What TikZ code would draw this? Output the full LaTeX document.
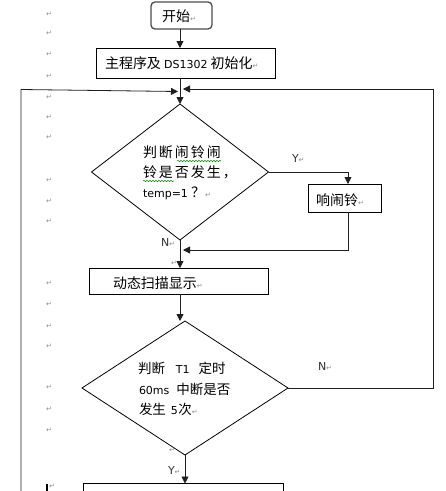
\documentclass[tikz,border=0pt]{standalone}
\usepackage{fontspec}
\setmainfont{Noto Sans CJK SC}
\newfontfamily\latf{DejaVu Sans}
\newfontfamily\symf{DejaVu Sans}
\usetikzlibrary{arrows.meta,shapes.geometric,decorations.pathmorphing}
\newcommand\parmark{{\symf\fontsize{7}{7}\selectfont\color{black!45}↵}}
\newcommand\lt[1]{{\latf\fontsize{11}{13}\selectfont #1}}
\tikzset{
  every node/.style={outer sep=0pt},
  line/.style={draw=black!88, line width=0.8pt},
  arr/.style={line, -{Triangle[length=7pt,width=7pt]}},
  startbox/.style={draw=black!70, line width=1.3pt, rounded corners=4pt, inner sep=0pt,
    minimum width=61pt, minimum height=27pt},
  procbox/.style={draw=black, line width=1pt, inner sep=0pt},
  decision/.style={diamond, draw=black, line width=0.8pt, inner sep=0pt},
  txt/.style={inner sep=0pt, anchor=west, font=\fontsize{14}{16}\selectfont},
  txtb/.style={inner sep=0pt, anchor=west, font=\fontsize{13.5}{16}\selectfont},
  lbl/.style={inner sep=0pt, anchor=west, text=black!80, font=\latf\fontsize{11}{13}\selectfont},
  pmark/.style={inner sep=0pt, anchor=west},
  wavy/.style={draw=green!55!black, line width=0.5pt, decorate,
    decoration={snake, amplitude=0.7pt, segment length=3pt}}
}
\begin{document}
\begin{tikzpicture}[x=1pt,y=-1pt]
\useasboundingbox (0,0) rectangle (446,491);
\clip (0,0) rectangle (446,491);
\fill[white] (0,0) rectangle (446,491);

% column and helper coordinates
\coordinate (col) at (180,0);
\coordinate (rc) at (348,0);
\coordinate (rr) at (433,0);

% shapes
\node[startbox] (start) at (181.5,15.5) {};
\node[procbox, minimum width=179pt, minimum height=30pt] (init) at (185.5,63) {};
\node[decision, minimum width=177pt, minimum height=136pt] (d1) at (180,172) {};
\node[procbox, minimum width=73pt, minimum height=28pt] (ring) at (344.5,198) {};
\node[procbox, minimum width=179pt, minimum height=26pt] (dyn) at (178.5,281) {};
\node[decision, minimum width=206pt, minimum height=134pt] (d2) at (185,388) {};
\node[procbox, minimum width=200pt, minimum height=30pt, anchor=north west] (final) at (83,483.5) {};

% texts
\node[txt] (tstart) at (162,16) {开始\parmark};
\node[txt] (tinit) at (105,63) {主程序及 \lt{DS1302} 初始化\parmark};
\node[txt] (td1a) at (143,152) {\makebox[78pt][s]{判\hfil 断\hfil 闹\hfil 铃\hfil 闹}};
\node[txt] (td1b) at (143,172) {\makebox[94pt][s]{铃\hfil 是\hfil 否\hfil 发\hfil 生\hfil ，}};
\node[txt] (td1c) at (143,193) {\lt{temp=1} ？\parmark};
\node[txt] (tring) at (316,200) {响闹铃\parmark};
\node[txt] (tdyn) at (113,283) {动态扫描显示\parmark};
\node[txtb] (td2a) at (138,368) {判断\hspace{11pt}\lt{T1}\hspace{9pt}定时};
\node[txtb] (td2b) at (139,389) {\lt{60ms}\hspace{7pt}中断是否};
\node[txtb] (td2c) at (139,409) {发生\hspace{5pt}\lt{5}\hspace{0.5pt}次\parmark};

% spell-check underlines
\draw[wavy] (177,161) -- (221,161);
\draw[wavy] (143,181) -- (174,181);

% branch labels
\node[lbl] (ly1) at (292,158) {Y\parmark};
\node[lbl] (ln1) at (161,242) {N\parmark};
\node[lbl] (ln2) at (318,366) {N\parmark};
\node[lbl] (ly2) at (168,470) {Y\parmark};

% loop coordinates
\coordinate (lbot) at (21,495);
\coordinate (ltop) at (21,89.5);
\coordinate (lend) at (178,91.5);
\coordinate (rtop) at (433,89);
\coordinate (rend) at (183,89);
\coordinate (mend) at (183,250);

% connectors
\draw[arr] (start.south -| col) -- (init.north -| col);
\draw[arr] (init.south -| col) -- (d1.north);
\draw[arr] (lbot) -- (ltop) -- (lend);
\draw[arr] (d2.east) -- (d2.east -| rr) -- (rtop) -- (rend);
\draw[arr] (d1.east) -- (d1.east -| rc) -- (ring.north -| rc);
\draw[arr] (ring.south -| rc) -- (rc |- mend) -- (mend);
\draw[arr] (d1.south) -- (dyn.north -| col);
\draw[arr] (dyn.south -| col) -- (col |- d2.north);
\draw[arr] (d2.south) -- (d2.south |- final.north);

% paragraph marks in margin
\foreach \yy in {14,33,54,76,97,117,137,180,201,221,283,304,326,346,387,409,430}
  \node[pmark] at (46,\yy) {\parmark};
\node[pmark] (pm1) at (171,263) {\parmark};
\node[pmark] (pm2) at (169,450) {\parmark};
\draw[black, line width=1.6pt] (47,484) -- (47,492);
\node[pmark] (pm3) at (49,486.5) {\parmark};
\end{tikzpicture}
\end{document}
